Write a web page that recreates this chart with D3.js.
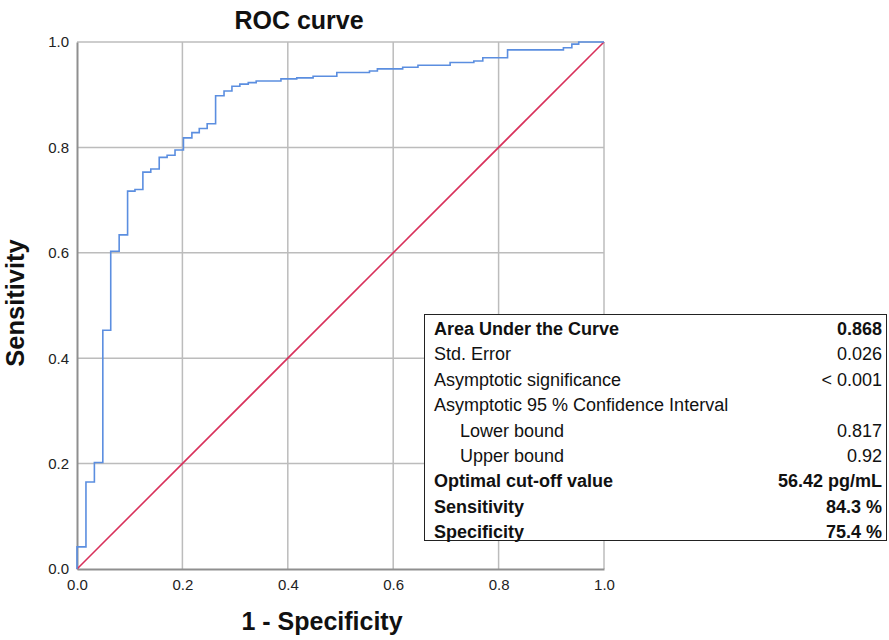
<!DOCTYPE html>
<html>
<head>
<meta charset="utf-8">
<script src="https://cdn.jsdelivr.net/npm/d3@7"></script>
<style>
  html, body { margin: 0; padding: 0; background: #fff; }
  svg { display: block; font-family: "Liberation Sans", Arial, Helvetica, sans-serif; }
</style>
</head>
<body>
<svg id="chart" width="889" height="640"></svg>
<script>
// ---- data ----
const rocFpr = [0, 0, 0.017, 0.033, 0.049, 0.064, 0.080, 0.096, 0.110, 0.125, 0.140, 0.156, 0.171, 0.186,
  0.202, 0.218, 0.232, 0.247, 0.263, 0.279, 0.294, 0.309, 0.325, 0.340, 0.387, 0.417, 0.448, 0.493,
  0.555, 0.570, 0.618, 0.647, 0.708, 0.753, 0.770, 0.817, 0.923, 0.939, 0.952, 1.0];
const rocTpr = [0, 0.042, 0.165, 0.202, 0.453, 0.603, 0.634, 0.717, 0.720, 0.753, 0.759, 0.781, 0.785, 0.795,
  0.818, 0.828, 0.836, 0.845, 0.898, 0.907, 0.916, 0.920, 0.923, 0.926, 0.930, 0.932, 0.935, 0.942,
  0.945, 0.949, 0.952, 0.956, 0.961, 0.964, 0.970, 0.985, 0.989, 0.996, 1.0, 1.0];
const refLine = [0, 1];
const tickValues = [0, 0.2, 0.4, 0.6, 0.8, 1.0];

const titleText = "ROC curve";
const xLabelText = "1 - Specificity";
const yLabelText = "Sensitivity";

const tableLabels = ["Area Under the Curve", "Std. Error", "Asymptotic significance",
  "Asymptotic 95 % Confidence Interval", "Lower bound", "Upper bound",
  "Optimal cut-off value", "Sensitivity", "Specificity"];
const tableValues = ["0.868", "0.026", "< 0.001", "", "0.817", "0.92", "56.42 pg/mL", "84.3 %", "75.4 %"];
const boldRows = [0, 6, 7, 8];
const indentRows = [4, 5];

// ---- layout ----
const svg = d3.select("#chart");
svg.append("rect").attr("width", 889).attr("height", 640).attr("fill", "#fff");

const x = d3.scaleLinear().domain([0, 1]).range([77, 604]);
const y = d3.scaleLinear().domain([0, 1]).range([569, 42]);

// gridlines
const grid = svg.append("g");
grid.selectAll("line.vg").data(tickValues.slice(1)).join("line")
  .attr("x1", d => x(d)).attr("x2", d => x(d))
  .attr("y1", y(0)).attr("y2", y(1))
  .attr("stroke", "#bcbcbc").attr("stroke-width", 1.5);
grid.selectAll("line.hg").data(tickValues.slice(1)).join("line")
  .attr("x1", x(0)).attr("x2", x(1))
  .attr("y1", d => y(d)).attr("y2", d => y(d))
  .attr("stroke", "#bcbcbc").attr("stroke-width", 1.5);

// axes
const xAxis = d3.axisBottom(x).tickValues(tickValues).tickFormat(d3.format(".1f")).tickSize(0).tickPadding(10);
const yAxis = d3.axisLeft(y).tickValues(tickValues).tickFormat(d3.format(".1f")).tickSize(0).tickPadding(8);

const gx = svg.append("g").attr("transform", `translate(0,${y(0)})`).call(xAxis);
const gy = svg.append("g").attr("transform", `translate(${x(0)},0)`).call(yAxis);
[gx, gy].forEach(g => {
  g.select(".domain").attr("stroke", "#8f8f8f").attr("stroke-width", 2);
  g.selectAll("text").attr("font-size", 15).attr("fill", "#222")
    .attr("font-family", "'Liberation Sans', Arial, sans-serif");
});

// reference diagonal
svg.append("line")
  .attr("x1", x(refLine[0])).attr("y1", y(refLine[0]))
  .attr("x2", x(refLine[1])).attr("y2", y(refLine[1]))
  .attr("stroke", "#d8315b").attr("stroke-width", 1.6);

// ROC curve
const pts = rocFpr.map((f, i) => [f, rocTpr[i]]);
svg.append("path")
  .datum(pts)
  .attr("fill", "none")
  .attr("stroke", "#5b8ee0")
  .attr("stroke-width", 1.6)
  .attr("d", d3.line().x(d => x(d[0])).y(d => y(d[1])).curve(d3.curveStepAfter));

// titles
svg.append("text").attr("x", 299).attr("y", 29).attr("text-anchor", "middle")
  .attr("font-size", 25).attr("font-weight", "bold").attr("fill", "#111").text(titleText);
svg.append("text").attr("x", 322).attr("y", 630).attr("text-anchor", "middle")
  .attr("font-size", 25).attr("font-weight", "bold").attr("fill", "#111").text(xLabelText);
svg.append("text").attr("transform", "translate(24,303) rotate(-90)").attr("text-anchor", "middle")
  .attr("font-size", 25.5).attr("font-weight", "bold").attr("fill", "#111").text(yLabelText);

// stats table
const tbl = svg.append("g");
tbl.append("rect").attr("x", 424.5).attr("y", 314.5).attr("width", 462).attr("height", 226)
  .attr("fill", "#fff").attr("stroke", "#222").attr("stroke-width", 1);
const rowY = i => 335 + i * 25.4;
tbl.selectAll("text.lab").data(tableLabels).join("text")
  .attr("x", (d, i) => indentRows.includes(i) ? 460 : 434)
  .attr("y", (d, i) => rowY(i))
  .attr("font-size", 18)
  .attr("font-weight", (d, i) => boldRows.includes(i) ? "bold" : "normal")
  .attr("fill", "#111")
  .text(d => d);
tbl.selectAll("text.val").data(tableValues).join("text")
  .attr("x", 882)
  .attr("y", (d, i) => rowY(i))
  .attr("text-anchor", "end")
  .attr("font-size", 18)
  .attr("font-weight", (d, i) => boldRows.includes(i) ? "bold" : "normal")
  .attr("fill", "#111")
  .text(d => d);
</script>
</body>
</html>
